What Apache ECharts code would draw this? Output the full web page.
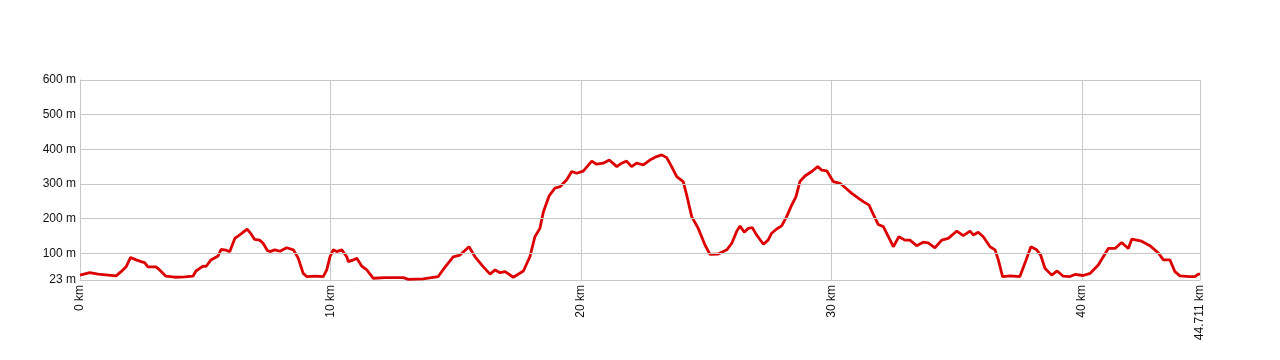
<!DOCTYPE html>
<html>
<head>
<meta charset="utf-8">
<script src="https://cdn.jsdelivr.net/npm/echarts@6/dist/echarts.min.js"></script>
<style>html,body{margin:0;padding:0;background:#fff;}#c{width:1280px;height:360px;}</style>
</head>
<body>
<div id="c"></div>
<script>
// distance along the route (km)
var distKm = [0.00,0.39,0.72,1.44,1.64,1.84,2.02,2.24,2.44,2.58,2.71,3.03,3.18,3.43,3.78,4.18,4.51,4.63,4.91,5.03,
5.23,5.51,5.63,5.83,5.98,6.18,6.43,6.67,6.83,6.97,7.17,7.31,7.48,7.58,7.78,7.98,8.25,8.52,8.71,8.91,
9.05,9.38,9.71,9.85,9.98,10.11,10.25,10.45,10.65,10.71,10.91,11.05,11.25,11.45,11.71,12.18,12.91,13.11,13.70,14.30,
14.57,14.90,15.17,15.53,15.77,16.10,16.37,16.57,16.77,16.97,17.30,17.70,17.96,18.16,18.36,18.50,18.73,18.96,19.16,19.43,
19.63,19.83,20.09,20.43,20.62,20.89,21.13,21.43,21.62,21.82,22.02,22.22,22.49,22.75,23.02,23.22,23.42,23.62,23.82,24.08,
24.22,24.42,24.68,24.95,25.15,25.48,25.62,25.82,26.02,26.22,26.35,26.52,26.68,26.84,27.01,27.28,27.47,27.61,27.81,28.01,
28.21,28.41,28.58,28.74,28.94,29.21,29.45,29.61,29.81,30.07,30.34,30.54,30.81,31.07,31.27,31.50,31.67,31.87,32.07,32.27,
32.47,32.69,32.93,33.13,33.40,33.66,33.86,34.13,34.40,34.66,34.90,35.00,35.26,35.53,35.66,35.86,36.06,36.33,36.53,36.66,
36.83,37.13,37.52,37.72,37.96,38.19,38.35,38.52,38.79,39.01,39.25,39.52,39.72,40.05,40.32,40.65,41.05,41.32,41.58,41.85,
41.99,42.38,42.71,43.05,43.25,43.51,43.71,43.91,44.31,44.51,44.64,44.711];
// elevation (m)
var elevM = [37,44,40,35,47,61,88,81,76,73,61,61,52,34,31,32,34,49,63,62,
81,92,111,109,105,143,156,170,156,140,138,129,108,105,110,106,116,110,86,42,
33,34,33,52,90,110,105,110,90,76,81,86,63,52,28,30,30,25,26,33,
60,90,95,119,90,61,40,52,44,47,31,49,90,148,172,220,266,288,292,312,
336,331,337,366,357,360,369,350,360,366,350,360,355,369,379,384,376,350,321,307,
268,206,172,124,97,98,103,110,129,164,179,161,172,174,153,126,138,158,170,179,
206,239,263,307,323,336,350,340,338,307,302,290,273,259,249,239,212,183,177,148,
119,148,138,138,122,132,130,116,138,143,158,164,151,164,153,161,148,119,110,81,
33,35,33,71,119,110,95,57,37,49,34,33,39,36,42,66,114,114,131,114,
141,135,122,101,81,81,47,35,33,33,40,40];
var xTicks = [0,10,20,30,40,44.711];
var yTicks = [23,100,200,300,400,500,600];
var yGrid = [100,200,300,400,500,600];

var series = distKm.map(function(d,i){return [d, elevM[i]];});
var chart = echarts.init(document.getElementById('c'), null, {renderer:'canvas'});
var font = 'Liberation Sans, Arial, sans-serif';
var gridColor = '#c8c8c8';
chart.setOption({
  animation:false,
  backgroundColor:'#fff',
  grid:{left:80,right:80,top:80,bottom:80,show:false},
  xAxis:{
    type:'value', min:0, max:44.711, interval:10,
    axisLine:{show:true,lineStyle:{color:gridColor,width:1}},
    axisTick:{show:false},
    splitLine:{show:true,lineStyle:{color:gridColor,width:1}},
    axisLabel:{customValues:xTicks, rotate:90, margin:5, color:'#111', fontSize:12, fontFamily:font,
      formatter:function(v){return v+' km';}}
  },
  yAxis:{
    type:'value', min:23, max:600,
    axisLine:{show:true,lineStyle:{color:gridColor,width:1}},
    axisTick:{show:false},
    splitLine:{show:false},
    axisLabel:{customValues:yTicks, margin:4, color:'#111', fontSize:12, fontFamily:font,
      formatter:function(v){return v+' m';}}
  },
  series:[
    {type:'line', data:[], z:1, silent:true,
      markLine:{silent:true, symbol:['none','none'], label:{show:false},
        lineStyle:{color:gridColor,width:1,type:'solid'},
        emphasis:{disabled:true},
        data:yGrid.map(function(v){return {yAxis:v};})}},
    {type:'line', data:series, symbol:'none', smooth:false, z:3,
      lineStyle:{color:'#dd0000',width:2.8}, itemStyle:{color:'#dd0000'}}
  ]
});
</script>
</body>
</html>
